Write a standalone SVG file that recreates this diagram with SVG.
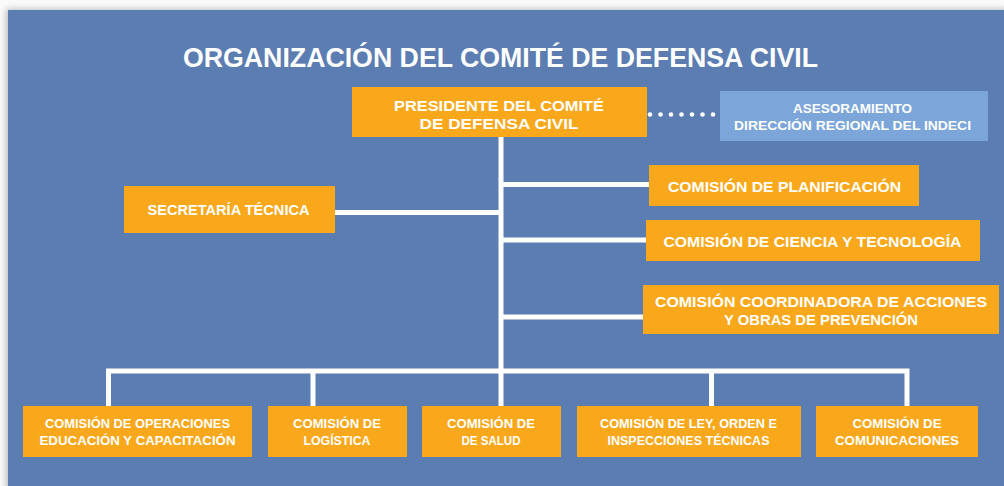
<svg xmlns="http://www.w3.org/2000/svg" width="1004" height="486" viewBox="0 0 1004 486">
<defs>
<filter id="sh" x="-5%" y="-5%" width="110%" height="110%"><feGaussianBlur stdDeviation="3"/></filter>
<style>
.o{fill:#F9A81C}
.lb{fill:#7CA6DA}
.t{font-family:"Liberation Sans",Arial,sans-serif;font-weight:bold;fill:#fff;text-anchor:middle}
.c{stroke:#fff;stroke-width:5;fill:none;stroke-linecap:butt;stroke-linejoin:miter}
</style>
</defs>
<rect width="1004" height="486" fill="#fafafa"/>
<rect x="6" y="9" width="1004" height="482" fill="#bbb" filter="url(#sh)"/>
<rect x="8" y="10" width="1000" height="480" fill="#5B7DB1"/>
<text class="t" x="500.5" y="67" font-size="28" textLength="635" lengthAdjust="spacingAndGlyphs">ORGANIZACIÓN DEL COMITÉ DE DEFENSA CIVIL</text>
<g id="connectors">
<path class="c" d="M501 137V371M335 212.5H501M501 184.5H649M501 240H646M501 317H643"/>
<path class="c" d="M108.5 406V371H907V406M313 371V406M501 371V406M711.5 371V406"/>
<g fill="#fff"><circle cx="650" cy="114.5" r="2.3"/><circle cx="660.5" cy="114.5" r="2.3"/><circle cx="671" cy="114.5" r="2.3"/><circle cx="681.5" cy="114.5" r="2.3"/><circle cx="692" cy="114.5" r="2.3"/><circle cx="702.5" cy="114.5" r="2.3"/><circle cx="713" cy="114.5" r="2.3"/></g>
</g>
<g id="presidente"><rect class="o" x="352" y="87" width="295" height="50"/>
<text class="t" font-size="15" x="499" y="111" textLength="210" lengthAdjust="spacingAndGlyphs">PRESIDENTE DEL COMITÉ</text>
<text class="t" font-size="15" x="499" y="128.5" textLength="159" lengthAdjust="spacingAndGlyphs">DE DEFENSA CIVIL</text></g>
<g id="asesoramiento"><rect class="lb" x="720" y="91" width="268" height="50"/>
<text class="t" font-size="13" x="852.5" y="113" textLength="119" lengthAdjust="spacingAndGlyphs">ASESORAMIENTO</text>
<text class="t" font-size="13" x="852.5" y="130" textLength="237" lengthAdjust="spacingAndGlyphs">DIRECCIÓN REGIONAL DEL INDECI</text></g>
<g id="secretaria"><rect class="o" x="124" y="186" width="211" height="47"/>
<text class="t" font-size="15" x="228.5" y="215" textLength="162" lengthAdjust="spacingAndGlyphs">SECRETARÍA TÉCNICA</text></g>
<g id="planificacion"><rect class="o" x="649" y="165" width="270" height="41"/>
<text class="t" font-size="15" x="784.5" y="191.5" textLength="233" lengthAdjust="spacingAndGlyphs">COMISIÓN DE PLANIFICACIÓN</text></g>
<g id="ciencia"><rect class="o" x="646" y="220" width="334" height="41"/>
<text class="t" font-size="15" x="812.5" y="246.5" textLength="298" lengthAdjust="spacingAndGlyphs">COMISIÓN DE CIENCIA Y TECNOLOGÍA</text></g>
<g id="coordinadora"><rect class="o" x="643" y="285" width="356" height="49"/>
<text class="t" font-size="15" x="821" y="306.5" textLength="332" lengthAdjust="spacingAndGlyphs">COMISIÓN COORDINADORA DE ACCIONES</text>
<text class="t" font-size="15" x="821" y="324.5" textLength="194" lengthAdjust="spacingAndGlyphs">Y OBRAS DE PREVENCIÓN</text></g>
<g id="operaciones"><rect class="o" x="23" y="406" width="229" height="51"/>
<text class="t" font-size="12" x="137.5" y="428" textLength="185" lengthAdjust="spacingAndGlyphs">COMISIÓN DE OPERACIONES</text>
<text class="t" font-size="12" x="137.5" y="445" textLength="196" lengthAdjust="spacingAndGlyphs">EDUCACIÓN Y CAPACITACIÓN</text></g>
<g id="logistica"><rect class="o" x="268" y="406" width="139" height="51"/>
<text class="t" font-size="12" x="337" y="428" textLength="88" lengthAdjust="spacingAndGlyphs">COMISIÓN DE</text>
<text class="t" font-size="12" x="337" y="445" textLength="67" lengthAdjust="spacingAndGlyphs">LOGÍSTICA</text></g>
<g id="salud"><rect class="o" x="422" y="406" width="139" height="51"/>
<text class="t" font-size="12" x="491" y="428" textLength="88" lengthAdjust="spacingAndGlyphs">COMISIÓN DE</text>
<text class="t" font-size="12" x="491" y="445" textLength="59" lengthAdjust="spacingAndGlyphs">DE SALUD</text></g>
<g id="ley"><rect class="o" x="577" y="406" width="224" height="51"/>
<text class="t" font-size="12" x="688.5" y="428" textLength="177" lengthAdjust="spacingAndGlyphs">COMISIÓN DE LEY, ORDEN E</text>
<text class="t" font-size="12" x="688.5" y="445" textLength="162" lengthAdjust="spacingAndGlyphs">INSPECCIONES TÉCNICAS</text></g>
<g id="comunicaciones"><rect class="o" x="816" y="406" width="162" height="51"/>
<text class="t" font-size="12" x="897" y="428" textLength="89" lengthAdjust="spacingAndGlyphs">COMISIÓN DE</text>
<text class="t" font-size="12" x="897" y="445" textLength="124" lengthAdjust="spacingAndGlyphs">COMUNICACIONES</text></g>
</svg>
